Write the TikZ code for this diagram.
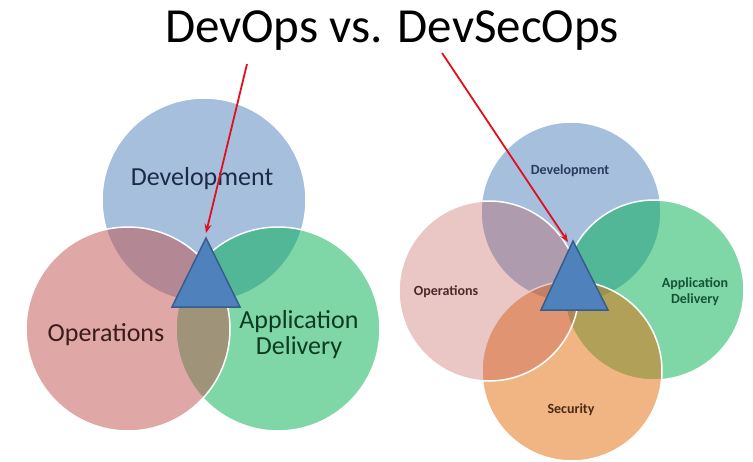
\documentclass[tikz,border=0pt]{standalone}
\usepackage{fontspec}
\setmainfont{Carlito}
\usetikzlibrary{arrows.meta}
\definecolor{obl}{HTML}{4F81BD}
\definecolor{ored}{HTML}{C0504D}
\definecolor{ogr}{HTML}{00B050}
\definecolor{oor}{HTML}{E46C0A}
\definecolor{tribd}{HTML}{385D8A}
\definecolor{arrred}{HTML}{E0101E}
\definecolor{tdev}{HTML}{1C2A48}
\definecolor{tops}{HTML}{3A1C1C}
\definecolor{tapp}{HTML}{0C3B22}
\definecolor{tdevr}{HTML}{2A3A60}
\definecolor{topsr}{HTML}{4A2A2A}
\definecolor{tappr}{HTML}{165238}
\definecolor{tsec}{HTML}{4A2A12}
\tikzset{
  venn/.style={circle, draw=white, line width=1.5pt, inner sep=0pt, outer sep=0pt},
  bigvenn/.style={venn, minimum size=204pt},
  smallvenn/.style={venn, minimum size=180pt},
  tri/.style={fill=obl, draw=tribd, line width=1.5pt, line join=miter},
  redarrow/.style={draw=arrred, line width=1.8pt, -{Stealth[length=9pt,width=7pt]}},
  biglabel/.style={font=\fontsize{26}{28}\selectfont, align=center},
  smalllabel/.style={font=\fontsize{14}{16}\selectfont\bfseries, align=center},
}
\begin{document}
\begin{tikzpicture}[x=1pt,y=-1pt]
\useasboundingbox (0,0) rectangle (753,461);
\fill[white] (0,0) rectangle (753,461);

% title
\node[anchor=base, font=\fontsize{49}{53}\selectfont, inner sep=0pt] (title) at (392,42) {DevOps vs. DevSecOps};

% left Venn: DevOps
\node[bigvenn, fill=obl, fill opacity=0.5] (ldev) at (204,200) {};
\node[bigvenn, fill=ogr, fill opacity=0.5] (lapp) at (278,329) {};
\node[bigvenn, fill=ored, fill opacity=0.5] (lops) at (128,329) {};
\node[biglabel, text=tdev] (ldevt) at (202,179) {Development};
\node[biglabel, text=tops] (lopst) at (106,335) {Operations};
\node[biglabel, text=tapp] (lappt) at (299,335) {Application\\[-2pt]Delivery};

\coordinate (lta) at (206,238);
\coordinate (ltb) at (240,307);
\coordinate (ltc) at (172,307);
\draw[tri] (lta) -- (ltb) -- (ltc) -- cycle;

% right Venn: DevSecOps
\node[smallvenn, fill=obl, fill opacity=0.5] (rdev) at (571,212) {};
\node[smallvenn, fill=ogr, fill opacity=0.5] (rapp) at (654,290) {};
\node[smallvenn, fill=oor, fill opacity=0.5] (rsec) at (572,371) {};
\node[smallvenn, fill=ored, fill opacity=0.32] (rops) at (489,291) {};
\node[smalllabel, text=tdevr] (rdevt) at (570,171) {Development};
\node[smalllabel, text=topsr] (ropst) at (446,292) {Operations};
\node[smalllabel, text=tappr] (rappt) at (695,292) {Application\\Delivery};
\node[smalllabel, text=tsec] (rsect) at (571,410) {Security};

\coordinate (rta) at (573,241);
\coordinate (rtb) at (608,310);
\coordinate (rtc) at (541,310);
\draw[tri] (rta) -- (rtb) -- (rtc) -- cycle;

% arrows
\coordinate (a1s) at (247,64);
\coordinate (a1e) at (206,233);
\coordinate (a2s) at (442,53);
\coordinate (a2e) at (568,242);
\draw[redarrow] (a1s) -- (a1e);
\draw[redarrow] (a2s) -- (a2e);
\end{tikzpicture}
\end{document}
